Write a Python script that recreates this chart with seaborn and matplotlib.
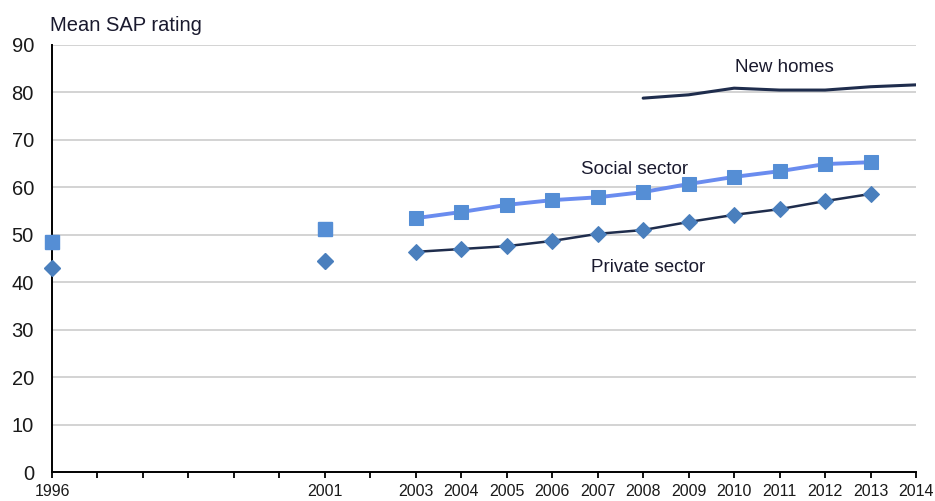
import pandas as pd
import matplotlib
matplotlib.use("Agg")
import matplotlib.pyplot as plt
import seaborn as sns

# category axis as in the reference: blank slots between 1996, 2001 and 2003
x_labels = ['1996', '', '', '', '', '', '2001', '', '2003', '2004', '2005', '2006',
            '2007', '2008', '2009', '2010', '2011', '2012', '2013', '2014']

# values
early_years = ['1996', '2001']
social_early = [48.5, 51.2]
private_early = [43.0, 44.5]

years = ['2003', '2004', '2005', '2006', '2007', '2008', '2009', '2010', '2011', '2012', '2013']
social = [53.5, 54.8, 56.3, 57.3, 57.9, 59.0, 60.7, 62.2, 63.4, 64.9, 65.3]
private = [46.4, 47.0, 47.6, 48.7, 50.2, 51.0, 52.7, 54.2, 55.4, 57.1, 58.6]

new_years = ['2008', '2009', '2010', '2011', '2012', '2013', '2014']
new_homes = [78.8, 79.5, 80.9, 80.5, 80.5, 81.2, 81.6]


def pos(labels):
    return [x_labels.index(y) for y in labels]


sns.set_style("white")
plt.rcParams['font.family'] = ['Liberation Sans', 'DejaVu Sans']

fig = plt.figure(figsize=(9.35, 5.01), dpi=100)
ax = fig.add_axes([52 / 935, 29 / 501, 864 / 935, 427 / 501])

df = pd.DataFrame({'x': pos(years), 'social': social, 'private': private})
df_early = pd.DataFrame({'x': pos(early_years), 'social': social_early, 'private': private_early})
df_new = pd.DataFrame({'x': pos(new_years), 'new': new_homes})

# grid lines first so the data sits on top
for v in range(10, 100, 10):
    ax.axhline(v, color='#d3d3d3', lw=1.4, zorder=0)

sns.lineplot(data=df_new, x='x', y='new', ax=ax, color='#1f2d4d', lw=2.2)

sns.lineplot(data=df, x='x', y='social', ax=ax, color='#6a8cef', lw=2.8,
             marker='s', markersize=10, markerfacecolor='#558ed5',
             markeredgecolor='#558ed5')
sns.lineplot(data=df, x='x', y='private', ax=ax, color='#1f2d4d', lw=1.8,
             marker='D', markersize=8.5, markerfacecolor='#4a7fbd',
             markeredgecolor='#4a7fbd')

ax.plot(df_early['x'], df_early['social'], ls='none', marker='s',
        markersize=10, color='#558ed5', clip_on=False, zorder=5)
ax.plot(df_early['x'], df_early['private'], ls='none', marker='D',
        markersize=8.5, color='#4a7fbd', clip_on=False, zorder=5)

ax.text(16.1, 85.2, 'New homes', ha='center', va='center', fontsize=13.5, color='#1a1a2e')
ax.text(12.8, 63.8, 'Social sector', ha='center', va='center', fontsize=13.5, color='#1a1a2e')
ax.text(13.1, 43.0, 'Private sector', ha='center', va='center', fontsize=13.5, color='#1a1a2e')

ax.set_xlim(0, len(x_labels) - 1)
ax.set_ylim(0, 90)
ax.set_yticks(range(0, 100, 10))
ax.set_xticks(range(len(x_labels)))
ax.set_xticklabels(x_labels)
ax.set_xlabel('')
ax.set_ylabel('')

ax.tick_params(axis='y', length=0, pad=13, labelsize=14.5, labelcolor='#1a1a1a')
ax.tick_params(axis='x', direction='out', length=4.5, width=1.3, color='black',
               pad=4, labelsize=11.5, labelcolor='#1a1a1a', bottom=True)

sns.despine(ax=ax, top=True, right=True)
ax.spines['left'].set_color('black')
ax.spines['bottom'].set_color('black')
ax.spines['left'].set_linewidth(1.4)
ax.spines['bottom'].set_linewidth(1.4)

fig.text(50 / 935, (501 - 31) / 501, 'Mean SAP rating', fontsize=14.5,
         color='#1a1a2e', va='baseline', ha='left')

fig.savefig('out.png', dpi=100)
